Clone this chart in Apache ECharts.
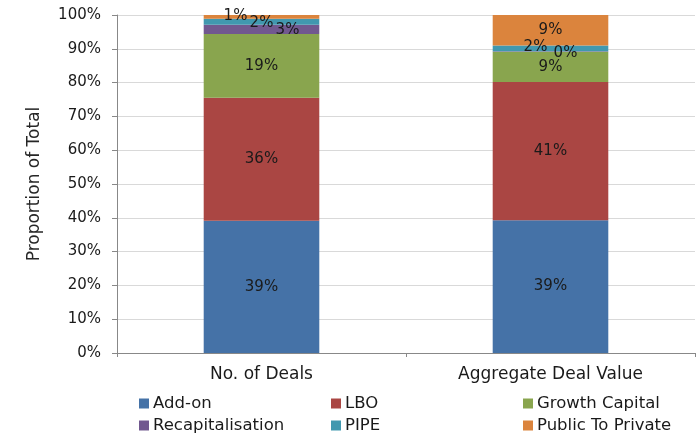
<!DOCTYPE html>
<html>
<head>
<meta charset="utf-8">
<script src="https://cdn.jsdelivr.net/npm/echarts@6/dist/echarts.min.js"></script>
<style>html,body{margin:0;padding:0;background:#fff;}#c{width:700px;height:438px;}</style>
</head>
<body>
<div id="c"></div>
<script>
var categories = ['No. of Deals', 'Aggregate Deal Value'];
var seriesNames = ['Add-on', 'LBO', 'Growth Capital', 'Recapitalisation', 'PIPE', 'Public To Private'];
var addOn = [39.1, 39.3];
var lbo = [36.4, 40.9];
var growthCapital = [18.9, 8.9];
var recap = [2.7, 0.2];
var pipe = [1.8, 1.7];
var publicToPrivate = [1.1, 9.0];
var yTicks = [0, 10, 20, 30, 40, 50, 60, 70, 80, 90, 100];

var values = [addOn, lbo, growthCapital, recap, pipe, publicToPrivate];
var colors = ['#4572A7', '#AA4643', '#89A54E', '#71588F', '#4198AF', '#DB843D'];
// label offsets (styling only) per series per category
var labelShift = [
  [[0,0],[0,0]],
  [[0,0],[0,0]],
  [[0,0],[0,0]],
  [[26,1],[15,2]],
  [[0,1],[-15,-1]],
  [[-26,-1],[0,0]]
];
var FONT = '"DejaVu Sans", sans-serif';
var chart = echarts.init(document.getElementById('c'));
var series = seriesNames.map(function(name, i){
  return {
    name: name, type: 'bar', stack: 'total', barWidth: '40%',
    itemStyle: {color: colors[i]},
    data: values[i].map(function(v, j){
      return {value: v, label: {offset: labelShift[i][j]}};
    }),
    label: {
      show: true, position: 'inside', color: '#1a1a1a', fontFamily: FONT, fontSize: 15,
      formatter: function(p){ return Math.round(p.value) + '%'; }
    },
    emphasis: {disabled: true}
  };
});
function legendCol(names, left){
  return {
    data: names, orient: 'vertical', left: left, top: 395, itemGap: 5, padding: 0,
    itemWidth: 10, itemHeight: 10, icon: 'rect',
    textStyle: {fontFamily: FONT, fontSize: 16.5, color: '#1a1a1a', padding: [0,0,0,-1]}
  };
}
chart.setOption({
  animation: false,
  color: colors,
  grid: {left: 117, right: 5, top: 15, bottom: 85},
  legend: [
    legendCol(['Add-on', 'Recapitalisation'], 139),
    legendCol(['LBO', 'PIPE'], 331),
    legendCol(['Growth Capital', 'Public To Private'], 523)
  ],
  xAxis: {
    type: 'category', data: categories,
    axisLine: {lineStyle: {color: '#888'}},
    axisTick: {show: true, length: 4, lineStyle: {color: '#888'}},
    axisLabel: {fontFamily: FONT, fontSize: 17, color: '#1a1a1a', margin: 13}
  },
  yAxis: {
    type: 'value', min: 0, max: 100, interval: 10,
    name: 'Proportion of Total', nameLocation: 'middle', nameGap: 74,
    nameTextStyle: {fontFamily: FONT, fontSize: 17, color: '#262626'},
    axisLine: {show: true, lineStyle: {color: '#888'}},
    axisTick: {show: true, length: 5, lineStyle: {color: '#888'}},
    axisLabel: {fontFamily: FONT, fontSize: 15, color: '#1a1a1a', margin: 16,
      formatter: function(v){ return yTicks.indexOf(v) >= 0 ? v + '%' : ''; }},
    splitLine: {lineStyle: {color: '#d9d9d9', width: 1}}
  },
  series: series
});
</script>
</body>
</html>
